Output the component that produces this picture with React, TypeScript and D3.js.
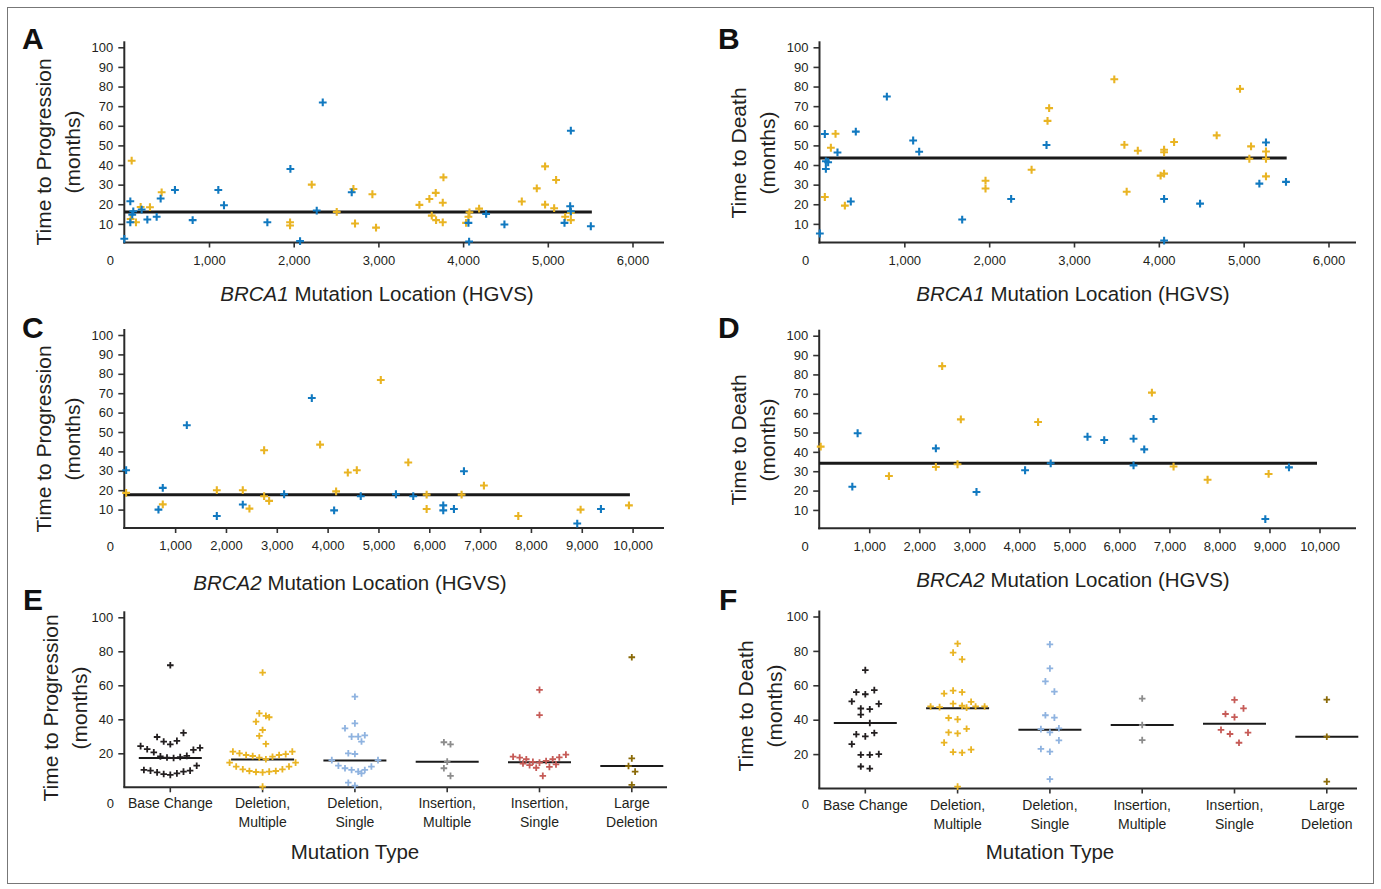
import { useRef, useEffect } from "react";
import * as d3 from "d3";

type Pt = [number, number];

// [mutation location (HGVS), months]
const brca1PfsBlue: Pt[] = [
  [0, 2.4], [71, 21.5], [71, 10.8], [94, 14.7], [106, 16.4], [205, 17.3], [272, 12.2], [382, 13.6],
  [429, 22.9], [598, 27.3], [807, 11.9], [1110, 27.3], [1177, 19.5], [1689, 10.8], [1961, 38],
  [2075, 1.2], [2272, 16.8], [2343, 71.9], [2685, 26.1], [4063, 10.5], [4071, 1], [4272, 15.1],
  [4488, 9.7], [5197, 10.5], [5264, 19], [5272, 16.4], [5272, 57.5], [5508, 8.8],
];
const brca1PfsYellow: Pt[] = [
  [87, 42.2], [75, 12.5], [138, 10.8], [193, 18.6], [303, 18.5], [441, 26.1], [1957, 10.8],
  [1957, 9.2], [2213, 30], [2508, 16.1], [2705, 27.8], [2724, 10.2], [2929, 25.1], [2972, 8.1],
  [3484, 19.7], [3602, 22.7], [3677, 25.8], [3768, 33.7], [3760, 20.8], [3630, 14.2], [3681, 11.9],
  [3760, 10.8], [4035, 10.5], [4075, 15.9], [4063, 13.6], [4189, 17.8], [4693, 21.4], [4870, 28.1],
  [4968, 39.3], [5098, 32.4], [4968, 19.8], [5075, 18], [5205, 13.6], [5272, 11.9], [5272, 15.6],
];
const brca1OsBlue: Pt[] = [
  [4, 5.1], [63, 55.8], [75, 41.9], [102, 41.4], [75, 38], [212, 46.4], [369, 21.4], [428, 57],
  [794, 74.9], [1104, 52.5], [1175, 46.8], [1682, 12.2], [2259, 22.7], [2676, 50.2], [4062, 22.7],
  [4062, 1.5], [4486, 20.3], [5185, 30.5], [5263, 51.5], [5499, 31.4],
];
const brca1OsYellow: Pt[] = [
  [63, 23.7], [134, 48.8], [189, 55.9], [299, 19.3], [1957, 32], [1957, 28], [2500, 37.6],
  [2688, 62.5], [2707, 69], [3475, 83.7], [3594, 50.3], [3621, 26.4], [3752, 47.3], [4021, 34.6],
  [4062, 35.6], [4062, 47.8], [4062, 46.5], [4180, 51.7], [4682, 55.1], [4957, 78.8], [5067, 43.2],
  [5087, 49.5], [5263, 46.9], [5263, 43.2], [5263, 34.2],
];
const brca2PfsBlue: Pt[] = [
  [36, 30.3], [672, 10], [757, 21.2], [1230, 53.5], [1820, 6.7], [2331, 12.6], [3144, 17.9],
  [3689, 67.5], [4128, 9.6], [4652, 16.9], [5344, 17.9], [5685, 16.9], [6275, 12.2], [6275, 9.6],
  [6485, 10.3], [6682, 29.8], [8911, 2.8], [9377, 10.3],
];
const brca2PfsYellow: Pt[] = [
  [36, 18.6], [757, 12.7], [1820, 20], [2331, 20], [2462, 10.5], [2751, 40.6], [2751, 16.9],
  [2849, 14.5], [3852, 43.5], [4167, 19.4], [4397, 29.1], [4574, 30.3], [5046, 76.8], [5587, 34.3],
  [5948, 17.7], [5948, 10.3], [6636, 17.7], [7075, 22.4], [7751, 6.7], [8977, 10], [9928, 12.2],
];
const brca2OsBlue: Pt[] = [
  [662, 22], [768, 49.6], [2332, 41.8], [3144, 19.3], [4115, 30.5], [4627, 34.1], [5363, 47.8],
  [5697, 46.1], [6283, 46.8], [6497, 41.3], [6683, 57], [6283, 33], [8917, 5.3], [9390, 32],
];
const brca2OsYellow: Pt[] = [
  [30, 42.7], [1394, 27.5], [2332, 32.2], [2458, 84.3], [2765, 33.6], [2831, 56.8], [4375, 55.4],
  [6650, 70.6], [7083, 32.4], [7763, 25.6], [8983, 28.6],
];

// median line per location panel (months) and how far along the gene it runs
const locationMedians = [16.1, 43.6, 17.6, 34.1];
const locationMedianEnds = [5520, 5507, 9947, 9950];

const mutationTypes = ["Base Change", "Deletion, Multiple", "Deletion, Single", "Insertion, Multiple", "Insertion, Single", "Large Deletion"];
const typeLabels = [["Base Change"], ["Deletion,", "Multiple"], ["Deletion,", "Single"], ["Insertion,", "Multiple"], ["Insertion,", "Single"], ["Large", "Deletion"]];

const pfsByType: number[][] = [
  [71.8, 32, 29.6, 27.3, 26.9, 25.3, 24.2, 23.2, 22.4, 22, 20.6, 18.5, 18.2, 17.8, 17.5, 17.2, 12.7, 10.2, 9.8, 9.8, 9.2, 8.8, 8.2, 7.8, 7.3],
  [67.5, 43.5, 42, 41.2, 38.6, 33.7, 30.2, 25.5, 21, 21, 20, 19.5, 19, 19, 18.4, 18, 17.5, 16.5, 14.5, 14.5, 12.2, 12.2, 10.6, 10.6, 9.6, 9.6, 9.2, 9, 8.8, 0.4],
  [53.3, 37.6, 34.7, 30.6, 29.8, 29.8, 26.9, 20, 19.6, 16, 16, 12.7, 12.2, 11.2, 10.2, 10.2, 9.2, 8.2, 2.7, 1],
  [26.5, 25.3, 15.1, 11.2, 6.7],
  [57.3, 42.5, 19.2, 18, 17.6, 17.5, 16.5, 16.5, 15.5, 15, 14.5, 14, 13.5, 13, 12, 11.5, 6.7],
  [76.5, 17, 12.5, 9.2, 1.4],
];
const pfsTypeMedians = [17.3, 16.3, 15.7, 15.1, 14.7, 12.5];

const osByType: number[][] = [
  [68.8, 57.2, 56, 54.8, 50.6, 49.2, 46.5, 46.1, 42.9, 38.1, 32.3, 31.5, 30.3, 25.8, 20, 19.6, 19.6, 12.8, 11.6],
  [84.2, 79, 75.1, 56.9, 56, 55.2, 50.4, 49.3, 48.1, 47.7, 47.7, 47.7, 47.3, 47, 41, 40.2, 34.7, 32.6, 32, 26.7, 22.6, 21.2, 20.8, 1.1],
  [83.8, 69.8, 62.3, 56.3, 42.6, 41.2, 35, 34.5, 32.6, 28, 23, 21.4, 5.4],
  [52.3, 36.9, 28.1],
  [51.5, 46.6, 43.3, 41.5, 34.1, 32.5, 31.7, 26.6],
  [51.7, 30.1, 4],
];
const osTypeMedians = [38.1, 46.6, 34.2, 36.9, 37.7, 30.1];

const BLUE = "#1179c0";
const YELLOW = "#e9b423";
const typeColors = ["#231f20", "#e9b423", "#8fb3e0", "#8c8c8c", "#c65b57", "#8a6a08"];
const INK = "#231f20";
const FONT = "'Liberation Sans', Arial, Helvetica, sans-serif";

const scatterPanels = [
  { letter: "A", blue: brca1PfsBlue, yellow: brca1PfsYellow, gene: "BRCA1", yTitle: "Time to Progression", xMax: 6000,
    left: 124.3, right: 632.5, axisEnd: 664, bottom: 243.5, top: 47.3, lx: 22, ly: 49, tx: 377, ty: 293, yx: 43, yy: 152 },
  { letter: "B", blue: brca1OsBlue, yellow: brca1OsYellow, gene: "BRCA1", yTitle: "Time to Death", xMax: 6000,
    left: 819.5, right: 1328.5, axisEnd: 1356, bottom: 243.5, top: 47.3, lx: 718, ly: 49, tx: 1073, ty: 293, yx: 738, yy: 153 },
  { letter: "C", blue: brca2PfsBlue, yellow: brca2PfsYellow, gene: "BRCA2", yTitle: "Time to Progression", xMax: 10000,
    left: 124.3, right: 632.6, axisEnd: 664, bottom: 529, top: 335, lx: 22, ly: 338, tx: 350, ty: 582, yx: 43, yy: 439 },
  { letter: "D", blue: brca2OsBlue, yellow: brca2OsYellow, gene: "BRCA2", yTitle: "Time to Death", xMax: 10000,
    left: 819.2, right: 1319.5, axisEnd: 1356, bottom: 529.3, top: 335.7, lx: 718, ly: 338, tx: 1073, ty: 579, yx: 738, yy: 440 },
];

const typePanels = [
  { letter: "E", values: pfsByType, medians: pfsTypeMedians, yTitle: "Time to Progression",
    left: 124.3, axisEnd: 667, bottom: 787.3, top: 617.3, lx: 23, ly: 610, tx: 355, ty: 851, yx: 50, yy: 708, rowPx: 13, step: 6.6 },
  { letter: "F", values: osByType, medians: osTypeMedians, yTitle: "Time to Death",
    left: 819.3, axisEnd: 1357, bottom: 788.5, top: 616.5, lx: 719, ly: 610, tx: 1050, ty: 851, yx: 745, yy: 706, rowPx: 13, step: 9 },
];

// Prism-like scatter: group close values into rows and spread each row around the center
function swarm(values: number[], y: (v: number) => number, rowPx: number, step: number) {
  const sorted = [...values].sort((a, b) => a - b);
  const rows: number[][] = [];
  let cur: number[] = [];
  let start = 0;
  for (const v of sorted) {
    if (cur.length && Math.abs(y(v) - y(start)) > rowPx) {
      rows.push(cur);
      cur = [];
    }
    if (!cur.length) start = v;
    cur.push(v);
  }
  if (cur.length) rows.push(cur);
  const out: { v: number; dx: number }[] = [];
  rows.forEach((row) => {
    const slots = row.map((_, i) => (i % 2 ? -Math.ceil(i / 2) : Math.ceil(i / 2)));
    const mean = d3.mean(slots) ?? 0;
    row.forEach((v, i) => out.push({ v, dx: (slots[i] - mean) * step }));
  });
  return out;
}

const plus = (r: number) => `M${-r},0H${r}M0,${-r}V${r}`;

function yTitle(svg: any, x: number, y: number, text: string) {
  [text, "(months)"].forEach((t, i) => {
    svg.append("text")
      .attr("transform", `translate(${x + i * 29},${y}) rotate(-90)`)
      .attr("text-anchor", "middle")
      .attr("dominant-baseline", "central")
      .attr("font-size", 21)
      .attr("fill", INK)
      .text(t);
  });
}

function styleAxis(g: any) {
  g.select(".domain").remove();
  g.selectAll("line").attr("stroke", "#333").attr("stroke-width", 1.6);
  g.selectAll("text").attr("font-family", FONT).attr("font-size", 13).attr("fill", INK);
}

const App = () => {
  const ref = useRef<SVGSVGElement>(null);

  useEffect(() => {
    const svg = d3.select(ref.current);
    svg.selectAll("*").remove();
    svg.attr("font-family", FONT);

    svg.append("rect")
      .attr("x", 7.5).attr("y", 7.5).attr("width", 1366).attr("height", 876)
      .attr("fill", "none").attr("stroke", "#777").attr("stroke-width", 1);

    // location panels A-D
    scatterPanels.forEach((p, idx) => {
      const x = d3.scaleLinear().domain([0, p.xMax]).range([p.left, p.right]);
      const y = d3.scaleLinear().domain([0, 100]).range([p.bottom, p.top]);
      const g = svg.append("g");

      g.append("g")
        .attr("transform", `translate(${p.left},0)`)
        .call(d3.axisLeft(y).tickValues(d3.range(10, 101, 10)).tickSize(6).tickPadding(5).tickSizeOuter(0))
        .call(styleAxis);
      g.append("g")
        .attr("transform", `translate(0,${p.bottom - 1})`)
        .call(d3.axisBottom(x).tickValues(d3.range(1000, p.xMax + 1, 1000)).tickFormat(d3.format(",")).tickSize(5).tickPadding(8).tickSizeOuter(0))
        .call(styleAxis);

      g.append("line").attr("x1", p.left).attr("x2", p.left).attr("y1", p.bottom).attr("y2", p.top - 6)
        .attr("stroke", "#2a2a2a").attr("stroke-width", 2);
      g.append("line").attr("x1", p.left - 1).attr("x2", p.axisEnd).attr("y1", p.bottom - 1).attr("y2", p.bottom - 1)
        .attr("stroke", "#2a2a2a").attr("stroke-width", 2);
      g.append("text").attr("x", p.left - 14).attr("y", p.bottom + 17).attr("text-anchor", "middle")
        .attr("dominant-baseline", "central").attr("font-size", 13).attr("fill", INK).text("0");

      g.append("line")
        .attr("x1", x(0)).attr("x2", x(locationMedianEnds[idx]))
        .attr("y1", y(locationMedians[idx])).attr("y2", y(locationMedians[idx]))
        .attr("stroke", "#1a1a1a").attr("stroke-width", 3);

      [[p.yellow, YELLOW], [p.blue, BLUE]].forEach(([data, color]) => {
        g.selectAll(null)
          .data(data as Pt[])
          .enter()
          .append("path")
          .attr("d", plus(3.9))
          .attr("transform", (d: Pt) => `translate(${x(d[0])},${y(d[1])})`)
          .attr("stroke", color as string)
          .attr("stroke-width", 2.1)
          .attr("fill", "none");
      });

      g.append("text").attr("x", p.lx).attr("y", p.ly).attr("font-size", 30).attr("font-weight", "bold")
        .attr("fill", "#111").text(p.letter);
      yTitle(g, p.yx, p.yy, p.yTitle);
      const t = g.append("text").attr("x", p.tx).attr("y", p.ty).attr("text-anchor", "middle")
        .attr("dominant-baseline", "central").attr("font-size", 20.5).attr("fill", INK);
      t.append("tspan").attr("font-style", "italic").text(p.gene);
      t.append("tspan").text(" Mutation Location (HGVS)");
    });

    // mutation type panels E-F
    typePanels.forEach((p) => {
      const x = d3.scaleBand().domain(mutationTypes).range([p.left - 0.15, p.left - 0.15 + 92.3 * 6]);
      const y = d3.scaleLinear().domain([0, 100]).range([p.bottom, p.top]);
      const g = svg.append("g");
      const cx = (t: string) => (x(t) ?? 0) + x.bandwidth() / 2;

      g.append("g")
        .attr("transform", `translate(${p.left},0)`)
        .call(d3.axisLeft(y).tickValues(d3.range(20, 101, 20)).tickSize(6).tickPadding(5).tickSizeOuter(0))
        .call(styleAxis);
      g.append("line").attr("x1", p.left).attr("x2", p.left).attr("y1", p.bottom).attr("y2", p.top - 6)
        .attr("stroke", "#2a2a2a").attr("stroke-width", 2);
      g.append("line").attr("x1", p.left - 1).attr("x2", p.axisEnd).attr("y1", p.bottom).attr("y2", p.bottom)
        .attr("stroke", "#2a2a2a").attr("stroke-width", 2);
      g.append("text").attr("x", p.left - 14).attr("y", p.bottom + 16).attr("text-anchor", "middle")
        .attr("dominant-baseline", "central").attr("font-size", 13).attr("fill", INK).text("0");

      mutationTypes.forEach((type, i) => {
        const c = cx(type);
        g.append("line").attr("x1", c).attr("x2", c).attr("y1", p.bottom).attr("y2", p.bottom + 5)
          .attr("stroke", "#333").attr("stroke-width", 1.6);
        typeLabels[i].forEach((line, j) => {
          g.append("text").attr("x", c).attr("y", p.bottom + 16 + j * 19).attr("text-anchor", "middle")
            .attr("dominant-baseline", "central").attr("font-size", 14).attr("fill", INK).text(line);
        });

        g.append("line")
          .attr("x1", c - 31.5).attr("x2", c + 31.5)
          .attr("y1", y(p.medians[i])).attr("y2", y(p.medians[i]))
          .attr("stroke", "#1a1a1a").attr("stroke-width", 2);

        g.selectAll(null)
          .data(swarm(p.values[i], y, p.rowPx, p.step))
          .enter()
          .append("path")
          .attr("d", plus(3.3))
          .attr("transform", (d) => `translate(${c + d.dx},${y(d.v)})`)
          .attr("stroke", typeColors[i])
          .attr("stroke-width", 1.8)
          .attr("fill", "none");
      });

      g.append("text").attr("x", p.lx).attr("y", p.ly).attr("font-size", 30).attr("font-weight", "bold")
        .attr("fill", "#111").text(p.letter);
      yTitle(g, p.yx, p.yy, p.yTitle);
      g.append("text").attr("x", p.tx).attr("y", p.ty).attr("text-anchor", "middle")
        .attr("dominant-baseline", "central").attr("font-size", 20.5).attr("fill", INK).text("Mutation Type");
    });
  }, []);

  return <svg ref={ref} width={1381} height={889} style={{ position: "absolute", left: 0, top: 0 }} />;
};

export default App;
